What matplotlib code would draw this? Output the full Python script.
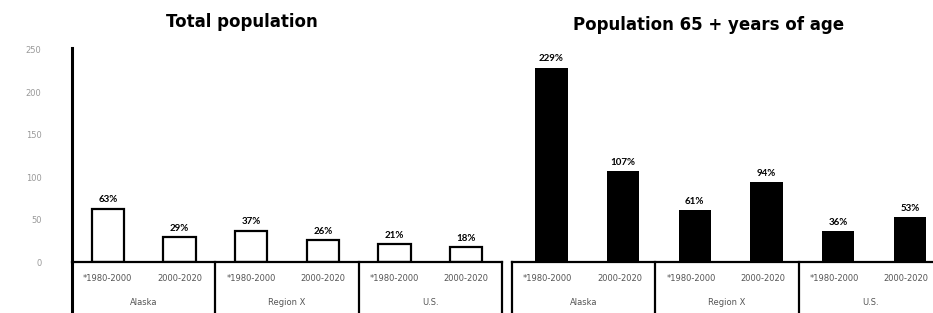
import numpy as np
import matplotlib
matplotlib.use('Agg')
import matplotlib.pyplot as plt

# data (percent change)
groups = ['Alaska', 'Region X', 'U.S.']
periods = ['*1980-2000', '2000-2020']
total_pop = [63, 29, 37, 26, 21, 18]
pop_65 = [229, 107, 61, 94, 36, 53]
yticks = [0, 50, 100, 150, 200, 250]

W, H = 933, 313
fig = plt.figure(figsize=(W / 100, H / 100), dpi=100)
fig.patch.set_facecolor('white')


def px_axes(x0, x1, y_top, y_base):
    return fig.add_axes([x0 / W, 1 - y_base / H, (x1 - x0) / W, (y_base - y_top) / H])


ax1 = px_axes(72, 502, 48, 262)
ax2 = px_axes(512, 942, 48, 262)

pos = np.arange(len(total_pop)) + 0.5
width = 0.45
low = -0.25   # bottom of table, axes fraction


def table(ax, left_line):
    trans = ax.get_xaxis_transform()
    n = len(groups)
    # top line of the table
    ax.plot([0, 2 * n], [0, 0], color='black', lw=1.6, transform=trans, clip_on=False)
    for i in range(n + 1):
        if i == 0 and not left_line:
            continue
        ax.plot([2 * i, 2 * i], [0, low], color='black', lw=1.6,
                transform=trans, clip_on=False)
    for i, g in enumerate(groups):
        for j, p in enumerate(periods):
            ax.text(2 * i + 0.5 + j, -0.075, p, transform=trans, ha='center',
                    va='center', fontsize=6, color='#555555')
        ax.text(2 * i + 1, -0.19, g, transform=trans, ha='center', va='center',
                fontsize=6, color='#555555')


def labels(ax, rects, vals):
    for r, v in zip(rects, vals):
        ax.annotate('%d%%' % v, (r.get_x() + r.get_width() / 2, r.get_height()),
                    xytext=(0, 3), textcoords='offset points', ha='center',
                    va='bottom', fontsize=7, fontweight='bold', family='Lato')


# left: total population
r1 = ax1.bar(pos, total_pop, width, facecolor='white', edgecolor='black', lw=1.6)
labels(ax1, r1, total_pop)
ax1.set_xlim(0, 6)
ax1.set_ylim(0, 252)
ax1.set_yticks(yticks)
ax1.set_yticklabels([str(t) for t in yticks])
ax1.tick_params(axis='y', length=0, pad=22, labelsize=6, labelcolor='#999999')
ax1.set_xticks([])
for s in ['top', 'right', 'bottom']:
    ax1.spines[s].set_visible(False)
ax1.spines['left'].set_linewidth(2.2)
ax1.spines['left'].set_bounds(0, 252)
ax1.plot([0, 0], [0, low], color='black', lw=2.2,
         transform=ax1.get_xaxis_transform(), clip_on=False)
table(ax1, False)

# right: population 65+
r2 = ax2.bar(pos + 0.05, pop_65, width, color='black')
labels(ax2, r2, pop_65)
ax2.set_xlim(0, 6)
ax2.set_ylim(0, 252)
ax2.set_xticks([])
ax2.set_yticks([])
for s in ax2.spines.values():
    s.set_visible(False)
table(ax2, True)

fig.text(242 / W, 1 - 22 / H, 'Total population', ha='center', va='center',
         fontsize=12, fontweight='bold', family='DejaVu Sans')
fig.text(709 / W, 1 - 25 / H, 'Population 65 + years of age', ha='center',
         va='center', fontsize=12, fontweight='bold', family='DejaVu Sans')

fig.savefig('out.png', dpi=100, facecolor='white')
